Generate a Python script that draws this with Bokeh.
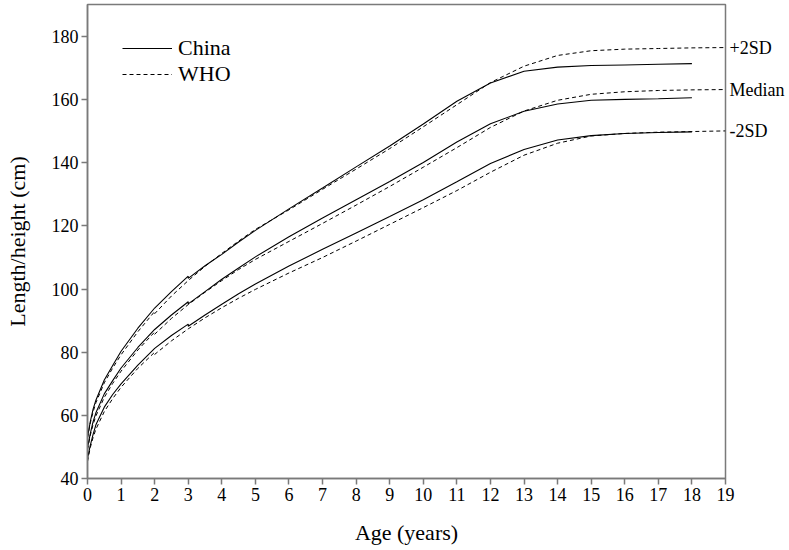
from bokeh.plotting import figure
from bokeh.models import Legend, LegendItem, LinearAxis, SingleIntervalTicker, FixedTicker
from bokeh.embed import file_html
from bokeh.resources import INLINE

# WHO growth reference (girls), length/height in cm
who_age = [0, 0.0833, 0.1667, 0.25, 0.5, 0.75, 1, 1.5, 2, 2, 2.5, 3, 3.5, 4, 4.5, 5,
           6, 7, 8, 9, 10, 11, 12, 13, 14, 15, 16, 17, 18, 19]
who_m2 = [45.4, 49.8, 53.0, 55.6, 61.2, 65.3, 68.9, 74.9, 80.0, 79.3, 83.6, 87.4, 90.9, 94.1, 97.1, 99.9,
          105.1, 110.0, 115.2, 120.5, 125.8, 131.2, 137.0, 142.4, 146.2, 148.5, 149.3, 149.7, 149.9, 150.1]
who_med = [49.1, 53.7, 57.1, 59.8, 65.7, 70.1, 74.0, 80.7, 86.4, 85.7, 90.7, 95.1, 99.0, 102.7, 106.2, 109.4,
           115.1, 120.8, 126.6, 132.5, 138.6, 144.8, 151.2, 156.4, 159.8, 161.7, 162.5, 162.9, 163.1, 163.2]
who_p2 = [52.9, 57.6, 61.1, 64.0, 70.3, 75.0, 79.2, 86.5, 92.9, 92.2, 97.8, 102.7, 107.2, 111.3, 115.2, 118.9,
          125.1, 131.6, 138.0, 144.5, 151.4, 158.4, 165.4, 170.6, 174.0, 175.5, 176.0, 176.2, 176.4, 176.5]

# China growth standard (girls)
cn_age = [0, 0.0833, 0.1667, 0.25, 0.5, 0.75, 1, 1.5, 2, 2.5, 3, 3, 3.5, 4, 4.5, 5,
          6, 7, 8, 9, 10, 11, 12, 13, 14, 15, 16, 17, 18]
cn_m2 = [46.4, 50.5, 54.0, 57.0, 62.6, 66.6, 70.0, 75.9, 81.2, 85.3, 88.9, 88.2, 91.8, 95.2, 98.5, 101.6,
         107.3, 112.6, 117.8, 123.0, 128.3, 134.0, 139.8, 144.2, 147.2, 148.6, 149.3, 149.6, 149.8]
cn_med = [49.7, 54.2, 58.0, 60.8, 66.8, 71.0, 75.0, 81.5, 87.2, 91.8, 96.0, 95.3, 99.2, 103.1, 106.7, 110.2,
          116.6, 122.5, 128.3, 134.1, 140.1, 146.6, 152.4, 156.3, 158.6, 159.8, 160.1, 160.3, 160.6]
cn_p2 = [53.0, 58.0, 62.0, 64.8, 71.2, 75.8, 80.3, 87.6, 94.0, 99.2, 104.1, 103.4, 107.4, 111.0, 114.9, 118.6,
         125.4, 132.0, 138.7, 145.3, 152.3, 159.5, 165.3, 169.0, 170.3, 170.8, 171.0, 171.2, 171.4]

curve_labels = ["+2SD", "Median", "-2SD"]

FONT = "Liberation Serif"
GRAY = "#7a7a7a"

p = figure(width=788, height=548, x_range=(0, 19), y_range=(40, 190.14),
           output_backend="svg", toolbar_location=None,
           min_border_left=87, min_border_right=63, min_border_top=4, min_border_bottom=70)
p.xgrid.visible = False
p.ygrid.visible = False
p.outline_line_color = GRAY
p.outline_line_width = 1.5

cn_lines = []
for ys in (cn_p2, cn_med, cn_m2):
    cn_lines.append(p.line(cn_age, ys, line_color="black", line_width=1.1))
who_lines = []
for ys in (who_p2, who_med, who_m2):
    who_lines.append(p.line(who_age, ys, line_color="black", line_width=1.0, line_dash="4 3"))

# right-hand curve labels placed at the WHO end values
end_vals = [who_p2[-1], who_med[-1], who_m2[-1]]
rax = LinearAxis(ticker=FixedTicker(ticks=end_vals),
                 major_label_overrides={v: t for v, t in zip(end_vals, curve_labels)})
rax.axis_line_color = None
rax.major_tick_line_color = None
rax.minor_tick_line_color = None
rax.major_tick_out = 0
rax.major_tick_in = 0
rax.major_label_standoff = 4
rax.major_label_text_font = FONT
rax.major_label_text_font_size = "18px"
rax.major_label_text_color = "black"
p.add_layout(rax, "right")

legend = Legend(items=[LegendItem(label="China", renderers=[cn_lines[0]]),
                       LegendItem(label="WHO", renderers=[who_lines[0]])],
                location=(35, 391), padding=0, margin=0, spacing=0,
                glyph_width=50, glyph_height=20, label_height=20, label_standoff=6,
                label_text_font=FONT, label_text_font_size="22px", label_text_color="black",
                border_line_color=None, background_fill_alpha=0)
p.add_layout(legend)

for ax in (p.xaxis[0], p.yaxis[0]):
    ax.axis_line_color = GRAY
    ax.axis_line_width = 1.5
    ax.major_tick_line_color = GRAY
    ax.major_tick_line_width = 1.5
    ax.major_tick_out = 6
    ax.major_tick_in = 0
    ax.minor_tick_line_color = None
    ax.major_label_text_font = FONT
    ax.major_label_text_font_size = "18px"
    ax.major_label_text_color = "black"
    ax.major_label_standoff = 3
    ax.axis_label_text_font = FONT
    ax.axis_label_text_font_size = "22px"
    ax.axis_label_text_font_style = "normal"
    ax.axis_label_text_color = "black"

p.xaxis[0].ticker = SingleIntervalTicker(interval=1)
p.yaxis[0].ticker = SingleIntervalTicker(interval=20)
p.xaxis[0].axis_label = "Age (years)"
p.yaxis[0].axis_label = "Length/height (cm)"
p.xaxis[0].axis_label_standoff = 16
p.yaxis[0].axis_label_standoff = 19

open("out.html", "w").write(file_html(p, INLINE))
